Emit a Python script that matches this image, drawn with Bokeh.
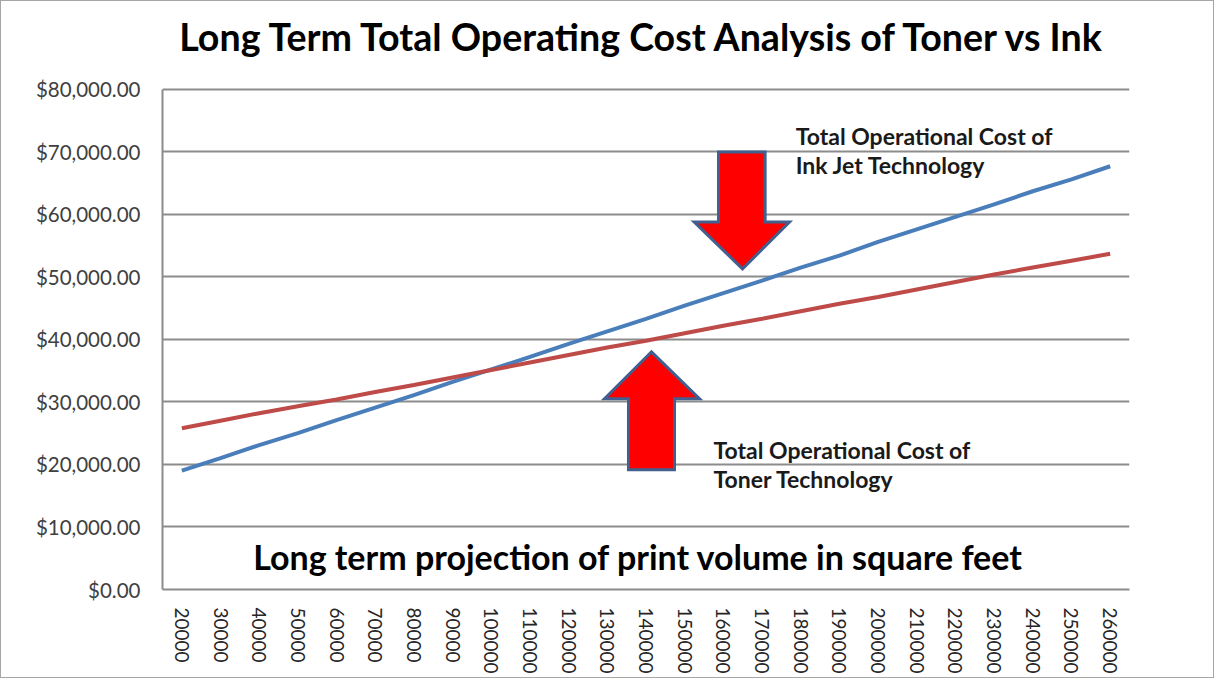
from bokeh.plotting import figure
from bokeh.models import Range1d, FixedTicker, NumeralTickFormatter, Label
from bokeh.embed import file_html
from bokeh.resources import INLINE

# ---- data ----
volumes = [20000, 30000, 40000, 50000, 60000, 70000, 80000, 90000, 100000,
           110000, 120000, 130000, 140000, 150000, 160000, 170000, 180000,
           190000, 200000, 210000, 220000, 230000, 240000, 250000, 260000]
ink_cost = [19000, 21000, 23100, 25000, 27100, 29100, 31100, 33200, 35200,
            37200, 39300, 41300, 43300, 45400, 47400, 49400, 51500, 53400,
            55600, 57600, 59600, 61600, 63700, 65600, 67700]
toner_cost = [25800, 27000, 28200, 29300, 30400, 31600, 32700, 33900, 35100,
              36300, 37500, 38700, 39800, 41000, 42200, 43300, 44500, 45700,
              46800, 48000, 49200, 50400, 51500, 52600, 53700]
y_ticks = [0, 10000, 20000, 30000, 40000, 50000, 60000, 70000, 80000]

title_text = "Long Term Total Operating Cost Analysis of Toner vs Ink"
xlabel_text = "Long term projection of print volume in square feet"
ink_note = ["Total Operational Cost of", "Ink Jet Technology"]
toner_note = ["Total Operational Cost of", "Toner Technology"]

FONT = "Lato"
idx = list(range(len(volumes)))

# frame extends above the 80,000 line so the title can be drawn inside it
p = figure(width=1214, height=678, output_backend="svg", toolbar_location=None,
           title=None,
           x_range=Range1d(-0.5, len(volumes) - 0.5), y_range=Range1d(0, 92455),
           min_border_left=161, min_border_right=86, min_border_top=10,
           min_border_bottom=90)
p.styles = {"border": "1px solid #a6a6a6"}
p.outline_line_color = None
p.background_fill_color = "white"
p.border_fill_color = "white"

# axes
p.xaxis.ticker = FixedTicker(ticks=idx)
p.xaxis.major_label_overrides = {i: str(v) for i, v in zip(idx, volumes)}
p.xaxis.major_label_orientation = "vertical"
p.xaxis.major_label_text_font = FONT
p.xaxis.major_label_text_font_size = "19px"
p.xaxis.major_label_text_color = "#262626"
p.xaxis.major_label_standoff = 12
p.xaxis.major_tick_line_color = None
p.xaxis.minor_tick_line_color = None
p.xaxis.axis_line_color = "#8c8c8c"
p.xaxis.axis_line_width = 2

p.yaxis.ticker = FixedTicker(ticks=y_ticks)
p.yaxis.bounds = (0, 80000)
p.yaxis.formatter = NumeralTickFormatter(format="$0,0.00")
p.yaxis.major_label_text_font = FONT
p.yaxis.major_label_text_font_size = "20.5px"
p.yaxis.major_label_text_color = "#404040"
p.yaxis.major_label_standoff = 16
p.yaxis.major_tick_line_color = None
p.yaxis.minor_tick_line_color = None
p.yaxis.axis_line_color = "#8c8c8c"
p.yaxis.axis_line_width = 2

p.xgrid.grid_line_color = None
p.ygrid.grid_line_color = "#8c8c8c"
p.ygrid.grid_line_width = 2

# series
p.line(idx, ink_cost, line_color="#4A7EBB", line_width=4)
p.line(idx, toner_cost, line_color="#BE4B48", line_width=4)

# arrows
down_x = [13.874, 15.08, 15.08, 15.71, 14.495, 13.246, 13.874]
down_y = [70000, 70000, 58790, 58790, 51280, 58790, 58790]
up_x = [11.547, 12.737, 12.737, 13.383, 12.142, 10.927, 11.547]
up_y = [19170, 19170, 30510, 30510, 38020, 30510, 30510]
for xs, ys in ((down_x, down_y), (up_x, up_y)):
    p.patch(xs, ys, fill_color="#FF0000", line_color="#41608F", line_width=3,
            line_join="miter")

# title
p.add_layout(Label(x=11.95, y=88460, text=title_text, text_font=FONT,
                   text_font_style="bold", text_font_size="37.6px", text_color="black",
                   text_baseline="alphabetic", text_align="center"))

# notes
def note(x, y, txt, size="23px"):
    p.add_layout(Label(x=x, y=y, text=txt, text_font=FONT, text_font_style="bold",
                       text_font_size=size, text_color="#1a1a1a",
                       text_baseline="alphabetic", text_align="left"))

note(15.87, 72530, ink_note[0])
note(15.87, 67890, ink_note[1])
note(13.745, 22330, toner_note[0])
note(13.745, 17690, toner_note[1])

p.add_layout(Label(x=11.8, y=5250, text=xlabel_text, text_font=FONT,
                   text_font_style="bold", text_font_size="34px", text_color="black",
                   text_baseline="alphabetic", text_align="center"))

open("out.html", "w").write(file_html(p, INLINE))
